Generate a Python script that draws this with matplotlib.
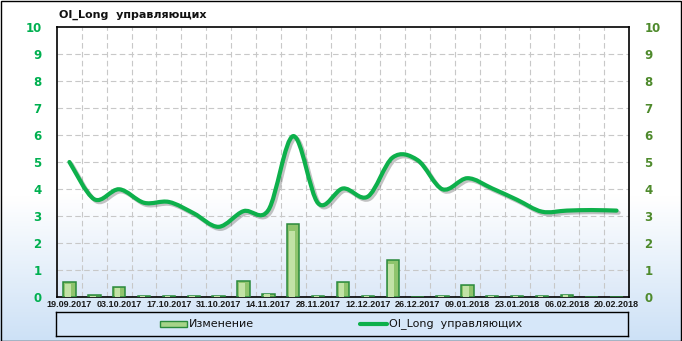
import numpy as np
import matplotlib
matplotlib.use("Agg")
import matplotlib.pyplot as plt
import matplotlib.patheffects as pe
from matplotlib.path import Path
from matplotlib.patches import PathPatch, Rectangle
from matplotlib.lines import Line2D
from matplotlib.colors import to_rgb

# weekly report dates
dates = [
    "19.09.2017", "26.09.2017", "03.10.2017", "10.10.2017", "17.10.2017",
    "24.10.2017", "31.10.2017", "07.11.2017", "14.11.2017", "21.11.2017",
    "28.11.2017", "05.12.2017", "12.12.2017", "19.12.2017", "26.12.2017",
    "02.01.2018", "09.01.2018", "16.01.2018", "23.01.2018", "30.01.2018",
    "06.02.2018", "13.02.2018", "20.02.2018",
]
# "Изменение" bars
change = [0.55, 0.06, 0.36, 0.05, 0.05, 0.05, 0.05, 0.59, 0.12, 2.70,
          0.05, 0.57, 0.05, 1.37, 0.0, 0.05, 0.44, 0.05, 0.05, 0.05,
          0.08, 0.0, 0.0]
# "OI_Long  управляющих" line
oi_long = [5.0, 3.62, 3.99, 3.49, 3.52, 3.1, 2.6, 3.18, 3.22, 5.96,
           3.47, 4.02, 3.72, 5.17, 5.07, 3.99, 4.4, 4.02, 3.6, 3.16,
           3.2, 3.22, 3.2]
yticks = list(range(0, 11))

W, H = 682, 341
LEFT_GREEN = "#00b050"
RIGHT_GREEN = "#4e8a2c"
LINE_GREEN = "#0db04b"


def gradient_image(top_frac, bottom_color, n=256):
    """Vertical white -> bottom_color ramp, white above top_frac."""
    t = np.linspace(1, 0, n)
    k = np.clip((top_frac - t) / top_frac, 0, 1)[:, None]
    white = np.ones(3)
    bot = np.array(to_rgb(bottom_color))
    return (white * (1 - k) + bot * k)[:, None, :]


def smooth_path(xs, ys):
    """Catmull-Rom curve through points as cubic Bezier path."""
    pts = np.column_stack([xs, ys]).astype(float)
    n = len(pts)
    verts = [pts[0]]
    codes = [Path.MOVETO]
    for i in range(n - 1):
        p0 = pts[max(i - 1, 0)]
        p1 = pts[i]
        p2 = pts[i + 1]
        p3 = pts[min(i + 2, n - 1)]
        verts += [p1 + (p2 - p0) / 6.0, p2 - (p3 - p1) / 6.0, p2]
        codes += [Path.CURVE4] * 3
    return Path(verts, codes)


fig = plt.figure(figsize=(W / 100, H / 100), dpi=100)

# figure background
bg = fig.add_axes([0, 0, 1, 1], zorder=-10)
bg.imshow(gradient_image(0.42, "#cde1f6"), extent=[0, 1, 0, 1], aspect="auto")
bg.set_axis_off()
fig.patches.append(Rectangle((0.5 / W, 0.5 / H), 1 - 1.5 / W, 1 - 1.5 / H,
                             transform=fig.transFigure, fill=False,
                             edgecolor="black", linewidth=1.0))

# plot area
pl, pr, pt, pb = 57, 629, 27, 297
ax = fig.add_axes([pl / W, 1 - pb / H, (pr - pl) / W, (pb - pt) / H])
x = np.arange(len(dates))
ax.imshow(gradient_image(0.38, "#dde9f8"), extent=[-0.5, len(dates) - 0.5, 0, 10],
          aspect="auto", zorder=0)
ax.set_xlim(-0.5, len(dates) - 0.5)
ax.set_ylim(0, 10)

for yv in yticks[1:-1]:
    ax.axhline(yv, color="#c8c8c8", lw=0.8, ls=(0, (5, 3)), zorder=1)
for xv in x[:-1] + 0.5:
    ax.axvline(xv, color="#c8c8c8", lw=0.8, ls=(0, (5, 3)), zorder=1)

# bars with a light highlight strip
bw = 0.5
ax.bar(x, change, width=bw, color="#8fc46d", edgecolor="#2a8a3c",
       linewidth=1.1, zorder=3)
ax.bar(x - bw * 0.12, [c * 0.9 for c in change], width=bw * 0.45,
       color="#c2e2a6", linewidth=0, zorder=4)

# smoothed line with shadow
line_patch = PathPatch(smooth_path(x, oi_long), facecolor="none",
                       edgecolor=LINE_GREEN, linewidth=3.0, zorder=6,
                       capstyle="round", joinstyle="round")
line_patch.set_path_effects([
    pe.SimpleLineShadow(offset=(1.5, -1.5), shadow_color="#555555", alpha=0.35),
    pe.Normal(),
])
ax.add_patch(line_patch)

ax.set_xticks(x[::2])
ax.set_xticklabels(dates[::2], fontsize=6.5, fontweight="bold",
                   family="Liberation Sans", color="#1a1a1a")
ax.set_yticks(yticks)
ax.set_yticklabels([str(v) for v in yticks], fontsize=8.5, fontweight="bold",
                   color=LEFT_GREEN)
ax.tick_params(axis="both", length=0)
ax.tick_params(axis="x", pad=2)
ax.tick_params(axis="y", pad=11)
for sp in ax.spines.values():
    sp.set_color("black")
    sp.set_linewidth(1.2)

ax2 = ax.twinx()
ax2.set_ylim(0, 10)
ax2.set_yticks(yticks)
ax2.set_yticklabels([str(v) for v in yticks], fontsize=8.5, fontweight="bold",
                    color=RIGHT_GREEN)
ax2.tick_params(axis="y", length=0, pad=11)
for sp in ax2.spines.values():
    sp.set_visible(False)

fig.text(59 / W, 1 - 15 / H, "OI_Long  управляющих", fontsize=8,
         fontweight="bold", va="center", ha="left", color="#111111")

# legend box
lg = fig.add_axes([56 / W, 1 - 336 / H, (628 - 56) / W, (336 - 312) / H])
lg.set_facecolor("#d6e7f9")
lg.set_xlim(0, 628 - 56)
lg.set_ylim(0, 1)
lg.set_xticks([])
lg.set_yticks([])
for sp in lg.spines.values():
    sp.set_color("black")
    sp.set_linewidth(1.0)
lg.add_patch(Rectangle((160 - 56, 0.38), 27, 0.24, facecolor="#a6d488",
                       edgecolor="#2a8a3c", linewidth=1.0))
lg.text(189 - 56, 0.5, "Изменение", fontsize=8, va="center", ha="left",
        color="#111111")
lg.add_line(Line2D([360 - 56, 387 - 56], [0.5, 0.5], color=LINE_GREEN,
                   linewidth=3.0, solid_capstyle="round"))
lg.text(389 - 56, 0.5, "OI_Long  управляющих", fontsize=8, va="center",
        ha="left", color="#111111")

fig.savefig("out.png", dpi=100)
